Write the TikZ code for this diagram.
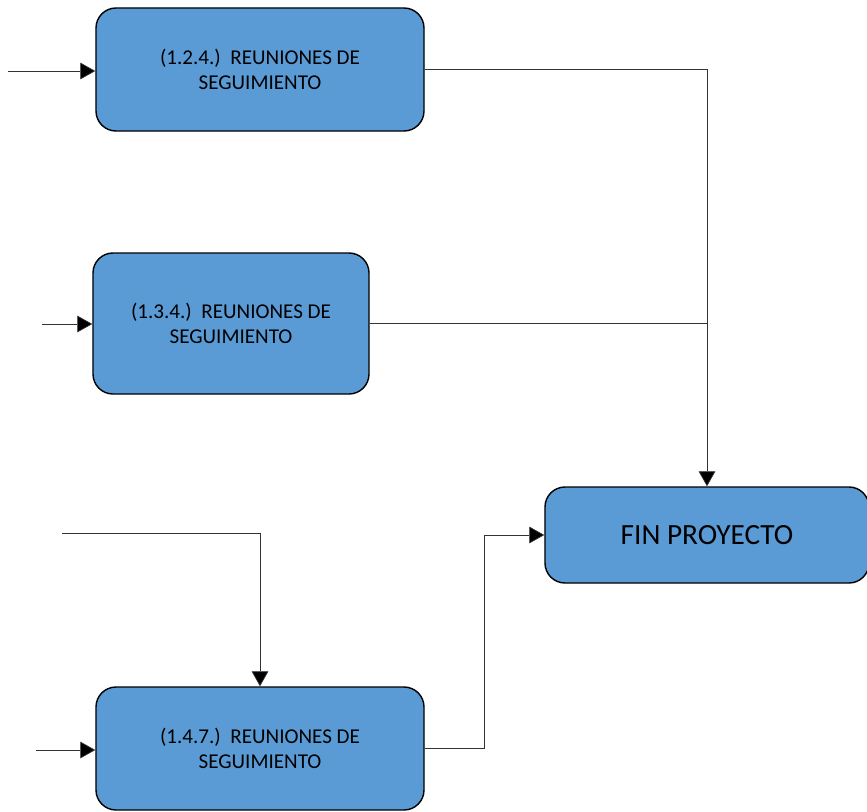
\documentclass[tikz,border=0pt]{standalone}
\usepackage{fontspec}
\setmainfont{Carlito}
\usetikzlibrary{arrows.meta}
\definecolor{boxblue}{HTML}{5B9BD5}

\begin{document}
\begin{tikzpicture}[x=0.03cm, y=-0.03cm,
    task/.style={rectangle, rounded corners=0.6cm, draw=black, fill=boxblue, line width=1.2pt, minimum width=9.84cm, minimum height=3.69cm, align=center, font=\fontsize{18}{21.5}\selectfont, text=black},
    endbox/.style={task, minimum width=9.72cm, minimum height=2.88cm, font=\fontsize{25}{29}\selectfont},
    arrow/.style={-{Triangle[length=0.45cm, width=0.5cm, fill=black]}, line width=0.6pt, draw=black!80},
    link/.style={line width=0.6pt, draw=black!80}
]
    \useasboundingbox (0,0) rectangle (867,812);

    % Nodes
    \node[task] (seg124) at (260, 69.5) {(1.2.4.)\ \ REUNIONES DE\\SEGUIMIENTO};
    \node[task, minimum width=8.28cm, minimum height=4.23cm] (seg134) at (231, 323.5) {(1.3.4.)\ \ REUNIONES DE\\SEGUIMIENTO};
    \node[task] (seg147) at (260, 748.5) {(1.4.7.)\ \ REUNIONES DE\\SEGUIMIENTO};
    \node[endbox] (fin) at (707, 535) {FIN PROYECTO};

    % Free ends
    \coordinate (in124) at (8, 71);
    \coordinate (in134) at (42, 324);
    \coordinate (in147) at (36, 750);
    \coordinate (top147) at (62, 533);

    % Arrows
    \draw[arrow] (in124) -- (in124 -| seg124.west);
    \draw[arrow] (in134) -- (in134 -| seg134.west);
    \draw[arrow] (in147) -- (in147 -| seg147.west);
    \draw[arrow] (top147) -| (seg147.north);
    \draw[arrow] (seg124.east) -| (fin.north);
    \draw[link] (seg134.east) -- (seg134.east -| fin.north);
    \draw[arrow] (seg147.east) -- ++(60,0) |- (fin.west);
\end{tikzpicture}
\end{document}
